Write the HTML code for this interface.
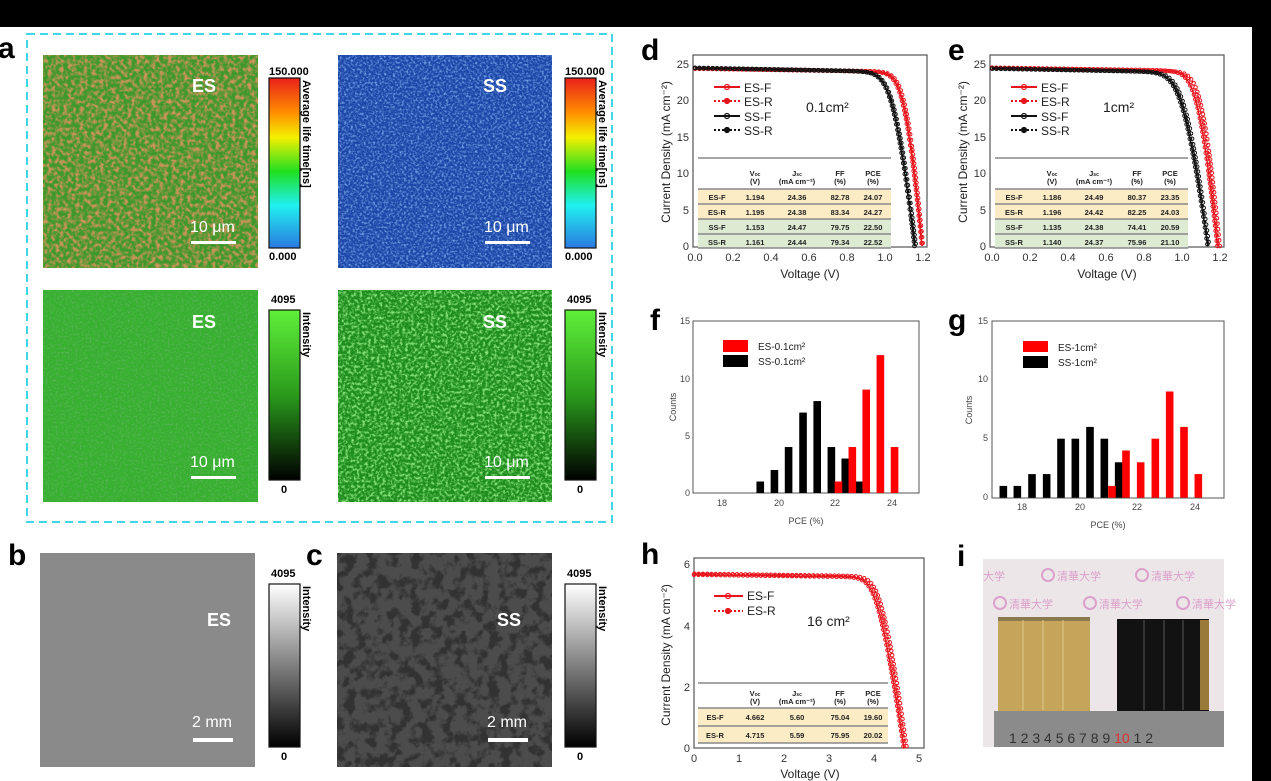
<!DOCTYPE html>
<html><head><meta charset="utf-8"><style>
html,body{margin:0;padding:0;background:#fff}
svg{display:block;font-family:"Liberation Sans","Noto Sans CJK SC",sans-serif}
.tk{font-size:11px;fill:#333}
.tks{font-size:9px;fill:#444}
.lab{font-size:12px;fill:#222}
.pl{font-size:30px;font-weight:bold;fill:#000}
.tb{font-size:7.5px;font-weight:bold;fill:#222;text-anchor:middle}
.wl{fill:#fff;font-weight:bold}
.cb{font-size:11px;font-weight:bold;fill:#000}
</style></head><body>
<svg id="s" width="1271" height="781" viewBox="0 0 1271 781" xmlns="http://www.w3.org/2000/svg">
<defs>
<filter id="fBrown" x="0" y="0" width="1" height="1"><feTurbulence type="fractalNoise" baseFrequency="0.25" numOctaves="3" seed="3"/><feColorMatrix type="matrix" values="0 0 0 0 0.6 0 0 0 0 0.3 0 0 0 0 0.1 3 0 0 0 -1.2"/><feComposite in2="SourceGraphic" operator="in"/></filter>
<filter id="fBlue" x="0" y="0" width="1" height="1"><feTurbulence type="fractalNoise" baseFrequency="0.45" numOctaves="2" seed="7"/><feColorMatrix type="matrix" values="0 0 0 0 0.2 0 0 0 0 0.4 0 0 0 0 0.85 2.5 0 0 0 -1.1"/><feComposite in2="SourceGraphic" operator="in"/></filter>
<filter id="fDark" x="0" y="0" width="1" height="1"><feTurbulence type="fractalNoise" baseFrequency="0.5" numOctaves="2" seed="11"/><feColorMatrix type="matrix" values="0 0 0 0 0.1 0 0 0 0 0.45 0 0 0 0 0.1 2.5 0 0 0 -1.1"/><feComposite in2="SourceGraphic" operator="in"/></filter>
<filter id="fBright" x="0" y="0" width="1" height="1"><feTurbulence type="fractalNoise" baseFrequency="0.35" numOctaves="3" seed="5"/><feColorMatrix type="matrix" values="0 0 0 0 0.25 0 0 0 0 0.8 0 0 0 0 0.2 3 0 0 0 -1.3"/><feComposite in2="SourceGraphic" operator="in"/></filter>
<filter id="fBlot" x="0" y="0" width="1" height="1"><feTurbulence type="fractalNoise" baseFrequency="0.09" numOctaves="4" seed="9"/><feColorMatrix type="matrix" values="0 0 0 0 0.03 0 0 0 0 0.03 0 0 0 0 0.03 5 0 0 0 -2.3"/><feComposite in2="SourceGraphic" operator="in"/></filter>
<linearGradient id="gLife" x1="0" y1="0" x2="0" y2="1"><stop offset="0" stop-color="#e8201a"/><stop offset=".2" stop-color="#ff8c00"/><stop offset=".35" stop-color="#f4f000"/><stop offset=".55" stop-color="#20e020"/><stop offset=".75" stop-color="#20f0f0"/><stop offset="1" stop-color="#2a7ae0"/></linearGradient>
<linearGradient id="gGreen" x1="0" y1="0" x2="0" y2="1"><stop offset="0" stop-color="#5ff03a"/><stop offset=".5" stop-color="#2a9a1c"/><stop offset="1" stop-color="#000"/></linearGradient>
<linearGradient id="gGrey" x1="0" y1="0" x2="0" y2="1"><stop offset="0" stop-color="#fff"/><stop offset="1" stop-color="#000"/></linearGradient>
</defs>
<rect width="1271" height="781" fill="#fff"/>
<rect x="0" y="0" width="1271" height="27" fill="#000"/>
<rect x="1252" y="0" width="19" height="781" fill="#000"/>

<text class="pl" x="-2" y="58">a</text>
<rect x="27" y="34" width="585" height="488" fill="none" stroke="#3fd6e6" stroke-width="2" stroke-dasharray="8 5"/>
<rect x="43" y="55" width="215" height="213" fill="#3e982c"/>
<rect x="43" y="55" width="215" height="213" fill="#fff" filter="url(#fBrown)"/>
<rect x="338" y="55" width="214" height="213" fill="#1c47a8"/>
<rect x="338" y="55" width="214" height="213" fill="#fff" filter="url(#fBlue)"/>
<rect x="43" y="290" width="215" height="212" fill="#36b02e"/>
<rect x="43" y="290" width="215" height="212" fill="#fff" filter="url(#fDark)"/>
<rect x="338" y="290" width="214" height="212" fill="#1f8c1f"/>
<rect x="338" y="290" width="214" height="212" fill="#fff" filter="url(#fBright)"/>
<g class="wl" font-size="18"><text x="192" y="92">ES</text><text x="483" y="92">SS</text><text x="192" y="328">ES</text><text x="483" y="328">SS</text></g>
<g fill="#fff" font-size="16"><text x="190" y="232">10 μm</text><text x="484" y="232">10 μm</text><text x="190" y="467">10 μm</text><text x="484" y="467">10 μm</text></g>
<g fill="#fff"><rect x="191" y="241" width="45" height="3"/><rect x="485" y="241" width="45" height="3"/><rect x="191" y="476" width="45" height="3"/><rect x="485" y="476" width="45" height="3"/></g>
<rect x="269" y="78" width="31" height="170" fill="url(#gLife)" stroke="#111" stroke-width="1.2"/>
<rect x="565" y="78" width="31" height="170" fill="url(#gLife)" stroke="#111" stroke-width="1.2"/>
<text class="cb" x="269" y="75">150.000</text><text class="cb" x="269" y="260">0.000</text>
<text class="cb" x="565" y="75">150.000</text><text class="cb" x="565" y="260">0.000</text>
<text class="cb" transform="translate(303,80) rotate(90)">Average life time[ns]</text>
<text class="cb" transform="translate(599,80) rotate(90)">Average life time[ns]</text>
<rect x="269" y="310" width="31" height="170" fill="url(#gGreen)" stroke="#111" stroke-width="1.2"/>
<rect x="565" y="310" width="31" height="170" fill="url(#gGreen)" stroke="#111" stroke-width="1.2"/>
<text class="cb" x="271" y="303">4095</text><text class="cb" x="281" y="493">0</text>
<text class="cb" x="567" y="303">4095</text><text class="cb" x="577" y="493">0</text>
<text class="cb" transform="translate(303,312) rotate(90)">Intensity</text>
<text class="cb" transform="translate(599,312) rotate(90)">Intensity</text>

<text class="pl" x="8" y="565">b</text>
<text class="pl" x="306" y="565">c</text>
<rect x="40" y="553" width="215" height="214" fill="#8a8a8a"/>
<rect x="337" y="553" width="215" height="214" fill="#4c4c4c"/>
<rect x="337" y="553" width="215" height="214" fill="#fff" filter="url(#fBlot)"/>
<g class="wl" font-size="18"><text x="207" y="626">ES</text><text x="497" y="626">SS</text></g>
<g fill="#fff" font-size="16"><text x="192" y="727">2 mm</text><text x="487" y="727">2 mm</text></g>
<rect x="193" y="738" width="40" height="4" fill="#fff"/><rect x="488" y="738" width="40" height="4" fill="#fff"/>
<rect x="269" y="584" width="31" height="163" fill="url(#gGrey)" stroke="#111" stroke-width="1.2"/>
<rect x="565" y="584" width="31" height="163" fill="url(#gGrey)" stroke="#111" stroke-width="1.2"/>
<text class="cb" x="271" y="577">4095</text><text class="cb" x="281" y="760">0</text>
<text class="cb" x="567" y="577">4095</text><text class="cb" x="577" y="760">0</text>
<text class="cb" transform="translate(303,586) rotate(90)">Intensity</text>
<text class="cb" transform="translate(599,586) rotate(90)">Intensity</text>

<text class="pl" x="641" y="60">d</text>
<rect x="693" y="55" width="234" height="192" fill="none" stroke="#555" stroke-width="1.2"/>
<g class="tk" text-anchor="middle"><text x="695" y="261">0.0</text><text x="733" y="261">0.2</text><text x="771" y="261">0.4</text><text x="809" y="261">0.6</text><text x="847" y="261">0.8</text><text x="885" y="261">1.0</text><text x="923" y="261">1.2</text></g>
<g class="tk" text-anchor="end"><text x="689" y="250">0</text><text x="689" y="214">5</text><text x="689" y="177">10</text><text x="689" y="141">15</text><text x="689" y="104">20</text><text x="689" y="68">25</text></g>
<text class="lab" x="810" y="278" text-anchor="middle">Voltage (V)</text>
<text class="lab" transform="translate(670,152) rotate(-90)" text-anchor="middle" font-size="11.5">Current Density (mA cm⁻²)</text>
<text x="806" y="112" font-size="14" fill="#222">0.1cm²</text>
<text class="pl" x="948" y="60">e</text>
<rect x="990" y="55" width="234" height="192" fill="none" stroke="#555" stroke-width="1.2"/>
<g class="tk" text-anchor="middle"><text x="992" y="261">0.0</text><text x="1030" y="261">0.2</text><text x="1068" y="261">0.4</text><text x="1106" y="261">0.6</text><text x="1144" y="261">0.8</text><text x="1182" y="261">1.0</text><text x="1220" y="261">1.2</text></g>
<g class="tk" text-anchor="end"><text x="986" y="250">0</text><text x="986" y="214">5</text><text x="986" y="177">10</text><text x="986" y="141">15</text><text x="986" y="104">20</text><text x="986" y="68">25</text></g>
<text class="lab" x="1107" y="278" text-anchor="middle">Voltage (V)</text>
<text class="lab" transform="translate(967,152) rotate(-90)" text-anchor="middle" font-size="11.5">Current Density (mA cm⁻²)</text>
<text x="1103" y="112" font-size="14" fill="#222">1cm²</text>

<g font-size="12" fill="#222">
<text x="744" y="92">ES-F</text><text x="744" y="106">ES-R</text><text x="744" y="121">SS-F</text><text x="744" y="135">SS-R</text>
<text x="1041" y="92">ES-F</text><text x="1041" y="106">ES-R</text><text x="1041" y="121">SS-F</text><text x="1041" y="135">SS-R</text>
</g>
<g id="legs"></g>

<g>
<rect x="698" y="189" width="193" height="30" fill="#fcecc6"/>
<rect x="698" y="219" width="193" height="29" fill="#dcebd2"/>
<g stroke="#888" stroke-width="1.5"><line x1="698" y1="158" x2="891" y2="158"/><line x1="698" y1="189" x2="891" y2="189"/><line x1="698" y1="204" x2="891" y2="204"/><line x1="698" y1="219" x2="891" y2="219"/><line x1="698" y1="234" x2="891" y2="234"/><line x1="698" y1="248" x2="891" y2="248"/></g>
<g class="tb"><text x="755" y="176">V<tspan font-size="5">oc</tspan></text><text x="755" y="184">(V)</text><text x="797" y="176">J<tspan font-size="5">sc</tspan></text><text x="797" y="184">(mA cm⁻²)</text><text x="840" y="176">FF</text><text x="840" y="184">(%)</text><text x="873" y="176">PCE</text><text x="873" y="184">(%)</text>
<text x="717" y="200">ES-F</text><text x="755" y="200">1.194</text><text x="797" y="200">24.36</text><text x="840" y="200">82.78</text><text x="873" y="200">24.07</text>
<text x="717" y="215">ES-R</text><text x="755" y="215">1.195</text><text x="797" y="215">24.38</text><text x="840" y="215">83.34</text><text x="873" y="215">24.27</text>
<text x="717" y="230">SS-F</text><text x="755" y="230">1.153</text><text x="797" y="230">24.47</text><text x="840" y="230">79.75</text><text x="873" y="230">22.50</text>
<text x="717" y="245">SS-R</text><text x="755" y="245">1.161</text><text x="797" y="245">24.44</text><text x="840" y="245">79.34</text><text x="873" y="245">22.52</text></g>
</g>
<g>
<rect x="995" y="189" width="193" height="30" fill="#fcecc6"/>
<rect x="995" y="219" width="193" height="29" fill="#dcebd2"/>
<g stroke="#888" stroke-width="1.5"><line x1="995" y1="158" x2="1188" y2="158"/><line x1="995" y1="189" x2="1188" y2="189"/><line x1="995" y1="204" x2="1188" y2="204"/><line x1="995" y1="219" x2="1188" y2="219"/><line x1="995" y1="234" x2="1188" y2="234"/><line x1="995" y1="248" x2="1188" y2="248"/></g>
<g class="tb"><text x="1052" y="176">V<tspan font-size="5">oc</tspan></text><text x="1052" y="184">(V)</text><text x="1094" y="176">J<tspan font-size="5">sc</tspan></text><text x="1094" y="184">(mA cm⁻²)</text><text x="1137" y="176">FF</text><text x="1137" y="184">(%)</text><text x="1170" y="176">PCE</text><text x="1170" y="184">(%)</text>
<text x="1014" y="200">ES-F</text><text x="1052" y="200">1.186</text><text x="1094" y="200">24.49</text><text x="1137" y="200">80.37</text><text x="1170" y="200">23.35</text>
<text x="1014" y="215">ES-R</text><text x="1052" y="215">1.196</text><text x="1094" y="215">24.42</text><text x="1137" y="215">82.25</text><text x="1170" y="215">24.03</text>
<text x="1014" y="230">SS-F</text><text x="1052" y="230">1.135</text><text x="1094" y="230">24.38</text><text x="1137" y="230">74.41</text><text x="1170" y="230">20.59</text>
<text x="1014" y="245">SS-R</text><text x="1052" y="245">1.140</text><text x="1094" y="245">24.37</text><text x="1137" y="245">75.96</text><text x="1170" y="245">21.10</text></g>
</g>

<text class="pl" x="641" y="564">h</text>
<rect x="694" y="558" width="230" height="190" fill="none" stroke="#555" stroke-width="1.2"/>
<rect x="698" y="708" width="190" height="35" fill="#fcecc6"/>
<g stroke="#888" stroke-width="1.5"><line x1="698" y1="683" x2="888" y2="683"/><line x1="698" y1="708" x2="888" y2="708"/><line x1="698" y1="726" x2="888" y2="726"/><line x1="698" y1="743" x2="888" y2="743"/></g>
<g class="tb"><text x="755" y="696">V<tspan font-size="5">oc</tspan></text><text x="755" y="704">(V)</text><text x="797" y="696">J<tspan font-size="5">sc</tspan></text><text x="797" y="704">(mA cm⁻²)</text><text x="840" y="696">FF</text><text x="840" y="704">(%)</text><text x="873" y="696">PCE</text><text x="873" y="704">(%)</text>
<text x="715" y="720">ES-F</text><text x="755" y="720">4.662</text><text x="797" y="720">5.60</text><text x="840" y="720">75.04</text><text x="873" y="720">19.60</text>
<text x="715" y="738">ES-R</text><text x="755" y="738">4.715</text><text x="797" y="738">5.59</text><text x="840" y="738">75.95</text><text x="873" y="738">20.02</text></g>
<g class="tk" text-anchor="middle"><text x="694" y="762">0</text><text x="739" y="762">1</text><text x="784" y="762">2</text><text x="829" y="762">3</text><text x="874" y="762">4</text><text x="919" y="762">5</text></g>
<g class="tk" text-anchor="end"><text x="690" y="752">0</text><text x="690" y="691">2</text><text x="690" y="630">4</text><text x="690" y="568">6</text></g>
<text class="lab" x="810" y="778" text-anchor="middle">Voltage (V)</text>
<text class="lab" transform="translate(670,655) rotate(-90)" text-anchor="middle" font-size="11.5">Current Density (mA cm⁻²)</text>
<g font-size="12" fill="#222"><text x="747" y="600">ES-F</text><text x="747" y="615">ES-R</text></g>
<text x="807" y="626" font-size="14" fill="#222">16 cm²</text>

<text class="pl" x="650" y="330">f</text>
<rect x="693" y="321" width="226" height="172" fill="none" stroke="#555" stroke-width="1"/>
<g id="fb"></g>
<rect x="723" y="340" width="25" height="12" fill="#f00"/><rect x="723" y="355" width="25" height="12" fill="#000"/>
<g font-size="10" fill="#222"><text x="758" y="350">ES-0.1cm²</text><text x="758" y="365">SS-0.1cm²</text></g>
<g class="tks" text-anchor="middle"><text x="722" y="506">18</text><text x="779" y="506">20</text><text x="835" y="506">22</text><text x="892" y="506">24</text></g>
<g class="tks" text-anchor="end"><text x="690" y="496">0</text><text x="690" y="439">5</text><text x="690" y="382">10</text><text x="690" y="324">15</text></g>
<text class="tks" x="806" y="524" text-anchor="middle">PCE (%)</text>
<text class="tks" transform="translate(676,407) rotate(-90)" text-anchor="middle">Counts</text>

<text class="pl" x="948" y="330">g</text>
<rect x="992" y="321" width="232" height="177" fill="none" stroke="#555" stroke-width="1"/>
<g id="gb"></g>
<rect x="1023" y="341" width="25" height="11" fill="#f00"/><rect x="1023" y="356" width="25" height="12" fill="#000"/>
<g font-size="10" fill="#222"><text x="1058" y="351">ES-1cm²</text><text x="1058" y="366">SS-1cm²</text></g>
<g class="tks" text-anchor="middle"><text x="1022" y="510">18</text><text x="1080" y="510">20</text><text x="1137" y="510">22</text><text x="1195" y="510">24</text></g>
<g class="tks" text-anchor="end"><text x="988" y="500">0</text><text x="988" y="441">5</text><text x="988" y="382">10</text><text x="988" y="324">15</text></g>
<text class="tks" x="1108" y="528" text-anchor="middle">PCE (%)</text>
<text class="tks" transform="translate(972,410) rotate(-90)" text-anchor="middle">Counts</text>

<text class="pl" x="957" y="566" font-size="28">i</text>
<rect x="983" y="559" width="241" height="188" fill="#ece6e8"/>
<g fill="#d88fc4" font-size="11" font-family="'Noto Sans CJK SC',sans-serif" opacity=".8">
<circle cx="1048" cy="575" r="6" fill="none" stroke="#d88fc4" stroke-width="2"/><text x="1057" y="580">清華大学</text>
<circle cx="1142" cy="575" r="6" fill="none" stroke="#d88fc4" stroke-width="2"/><text x="1151" y="580">清華大学</text>
<text x="983" y="580">大学</text>
<circle cx="1000" cy="603" r="6" fill="none" stroke="#d88fc4" stroke-width="2"/><text x="1009" y="608">清華大学</text>
<circle cx="1090" cy="603" r="6" fill="none" stroke="#d88fc4" stroke-width="2"/><text x="1099" y="608">清華大学</text>
<circle cx="1183" cy="603" r="6" fill="none" stroke="#d88fc4" stroke-width="2"/><text x="1192" y="608">清華大学</text>
</g>
<rect x="998" y="617" width="92" height="94" fill="#c5a55a"/>
<rect x="998" y="617" width="92" height="4" fill="#8a7a50"/>
<g stroke="#e0c98a" stroke-width="1"><line x1="1023" y1="620" x2="1023" y2="710"/><line x1="1043" y1="620" x2="1043" y2="710"/><line x1="1063" y1="620" x2="1063" y2="710"/></g>
<rect x="1117" y="619" width="92" height="92" fill="#121212"/>
<rect x="1200" y="620" width="9" height="90" fill="#9a7a3a"/>
<g stroke="#555" stroke-width="1"><line x1="1144" y1="620" x2="1144" y2="710"/><line x1="1164" y1="620" x2="1164" y2="710"/><line x1="1183" y1="620" x2="1183" y2="710"/></g>
<rect x="994" y="711" width="230" height="36" fill="#8b8b8b"/>
<g font-size="14" fill="#333"><text x="1009" y="743">1 2 3 4 5 6 7 8 9 <tspan fill="#e03030">10</tspan> 1 2</text></g>

<g id="curves"></g>
</svg>
<script>
(function(){
var NS="http://www.w3.org/2000/svg";
function el(n,a,p){var e=document.createElementNS(NS,n);for(var k in a)e.setAttribute(k,a[k]);(p||document.getElementById('curves')).appendChild(e);return e;}
function curve(Jsc,Voc,a,Rs,sh,sx,sy,col,dash,off){
  var E=Math.exp(Voc/a)-1;
  function Vof(J){return a*Math.log((Jsc-J)/Jsc*E+1)-J*Rs;}
  function Jof(V){var lo=0,hi=Jsc;for(var k=0;k<50;k++){var m=(lo+hi)/2;if(Vof(m)>V)lo=m;else hi=m;}return (lo+hi)/2;}
  var pts=[];
  for(var i=0;i<=800;i++){var V=Voc*i/800;var J=Jof(V);J=Math.max(0,J-sh*V*(J/Jsc));pts.push([sx(V),sy(J)]);}
  var d="M"+pts.map(function(p){return p[0].toFixed(1)+","+p[1].toFixed(1)}).join("L");
  el('path',{d:d,fill:'none',stroke:col,'stroke-width':1.4,'stroke-dasharray':dash||'none'});
  var last=null;
  pts.forEach(function(p){if(!last||Math.hypot(p[0]-last[0],p[1]-last[1])>=4.2){el('circle',{cx:p[0]+off,cy:p[1],r:1.8,fill:'none',stroke:col,'stroke-width':1});last=p;}});
}
function mk(x0,x1,vmax,y0,y1,jmax){return [function(V){return x0+V/vmax*(x1-x0)},function(J){return y0-J/jmax*(y0-y1)}];}
var d=mk(695,923,1.2,246,64,25);
curve(24.36,1.194,0.03,0.0025,0.4,d[0],d[1],'#e8141c',null,0);
curve(24.38,1.197,0.029,0.0024,0.4,d[0],d[1],'#e8141c','2,2',0.5);
curve(24.47,1.155,0.034,0.0032,0.5,d[0],d[1],'#111',null,0);
curve(24.44,1.16,0.034,0.0032,0.5,d[0],d[1],'#111','2,2',0.5);
var e=mk(992,1220,1.2,246,64,25);
curve(24.49,1.186,0.032,0.0028,0.4,e[0],e[1],'#e8141c',null,0);
curve(24.42,1.196,0.03,0.0025,0.4,e[0],e[1],'#e8141c','2,2',0.5);
curve(24.38,1.135,0.038,0.0038,0.5,e[0],e[1],'#111',null,0);
curve(24.37,1.14,0.037,0.0036,0.5,e[0],e[1],'#111','2,2',0.5);
var h=mk(694,919,5,748,564,6);
curve(5.65,4.662,0.12,0.08,0.02,h[0],h[1],'#e8141c',null,0);
curve(5.68,4.715,0.12,0.075,0.02,h[0],h[1],'#e8141c','2,2',0.5);
var L=document.getElementById('legs');
[[87,'#e8141c',null],[101,'#e8141c','2,2'],[116,'#111',null],[130,'#111','2,2']].forEach(function(r){
 [714,1011].forEach(function(x){el('line',{x1:x,y1:r[0],x2:x+26,y2:r[0],stroke:r[1],'stroke-width':2,'stroke-dasharray':r[2]||'none'},L);
 el('circle',{cx:x+13,cy:r[0],r:2.5,fill:r[2]?r[1]:'none',stroke:r[1],'stroke-width':1.2},L);});});
[[596,null],[611,'2,2']].forEach(function(r){el('line',{x1:714,y1:r[0],x2:743,y2:r[0],stroke:'#e8141c','stroke-width':2,'stroke-dasharray':r[1]||'none'},L);
 el('circle',{cx:728,cy:r[0],r:2.5,fill:r[1]?'#e8141c':'none',stroke:'#e8141c','stroke-width':1.2},L);});
function bars(g,x18,pu,y0,pc,data,col){var G=document.getElementById(g);data.forEach(function(b){var x=x18+(b[0]-18)*pu;el('rect',{x:x-3.8,y:y0-b[1]*pc,width:7.6,height:b[1]*pc,fill:col},G);});}
bars('fb',722.3,28.33,493,11.49,[[19.34,1],[19.84,2],[20.34,4],[20.85,7],[21.35,8],[21.85,4],[22.34,3],[22.84,1]],'#000');
bars('fb',722.3,28.33,493,11.49,[[22.1,1],[22.59,4],[23.08,9],[23.58,12],[24.08,4]],'#f00');
var gx=function(z){return 18+((950+z/3)-1021.7)/28.9};
bars('gb',1021.7,28.9,497.7,11.8,[[160,1],[202,1],[246,2],[290,2],[333,5],[376,5],[420,6],[463,5],[506,3]].map(function(b){return [gx(b[0]),b[1]]}),'#000');
bars('gb',1021.7,28.9,497.7,11.8,[[486,1],[528,4],[572,3],[616,5],[659,9],[702,6],[745,2]].map(function(b){return [gx(b[0]),b[1]]}),'#f00');
})();
</script>
</body></html>
